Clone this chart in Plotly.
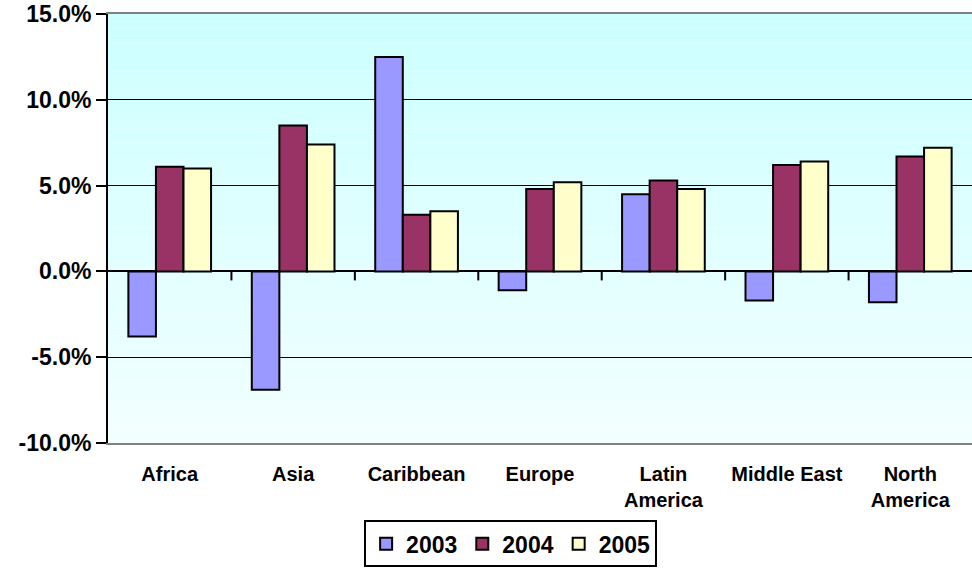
import plotly.graph_objects as go

categories = ["Africa", "Asia", "Caribbean", "Europe", "Latin<br>America", "Middle East", "North<br>America"]
years = ["2003", "2004", "2005"]
v2003 = [-3.8, -6.9, 12.5, -1.1, 4.5, -1.7, -1.8]
v2004 = [6.1, 8.5, 3.3, 4.8, 5.3, 6.2, 6.7]
v2005 = [6.0, 7.4, 3.5, 5.2, 4.8, 6.4, 7.2]
y_tick_vals = [-10, -5, 0, 5, 10, 15]
y_tick_text = ["-10.0%", "-5.0%", "0.0%", "5.0%", "10.0%", "15.0%"]
colors = ["#9999FF", "#993366", "#FFFFCC"]

FONT = "Arial, Liberation Sans, sans-serif"

fig = go.Figure()
for name, vals, col in zip(years, [v2003, v2004, v2005], colors):
    fig.add_trace(go.Bar(
        x=categories, y=vals, name=name,
        marker=dict(color=col, line=dict(color="black", width=2)),
    ))

# gradient background bands (top #CCFFFF -> bottom #F2FFFF)
shapes = []
n = 60
c0 = (204, 255, 255)
c1 = (242, 255, 255)
for i in range(n):
    t = i / (n - 1)
    r = round(c0[0] + (c1[0] - c0[0]) * t)
    g = round(c0[1] + (c1[1] - c0[1]) * t)
    b = round(c0[2] + (c1[2] - c0[2]) * t)
    shapes.append(dict(type="rect", xref="paper", yref="paper",
                       x0=0, x1=1, y0=1 - (i + 1) / n, y1=1 - i / n,
                       fillcolor=f"rgb({r},{g},{b})", line=dict(width=0),
                       layer="below"))
# category separator ticks at zero line
for i in range(len(categories) - 1):
    shapes.append(dict(type="line", xref="x", yref="y", ysizemode="pixel",
                       yanchor=0, x0=i + 0.5, x1=i + 0.5, y0=0, y1=-9,
                       line=dict(color="black", width=2)))

fig.update_layout(
    width=972, height=568,
    margin=dict(l=108, r=0, t=14, b=125, autoexpand=False),
    paper_bgcolor="white",
    plot_bgcolor="rgba(0,0,0,0)",
    barmode="group", bargap=0.33, bargroupgap=0,
    font=dict(family=FONT, color="black", weight="bold"),
    shapes=shapes,
    showlegend=True,
    legend=dict(orientation="h", x=0.466, xanchor="center", y=-0.18, yanchor="top",
                bordercolor="black", borderwidth=2, bgcolor="white",
                font=dict(size=23, family=FONT, weight="bold"),
                traceorder="normal", itemwidth=30, tracegroupgap=0),
)
fig.update_xaxes(
    showline=True, linecolor="#808080", linewidth=2, mirror=True,
    ticks="", tickfont=dict(size=20, family=FONT, weight="bold"),
    ticklabelstandoff=12, showgrid=False,
)
fig.update_yaxes(
    range=[-10, 15], tickmode="array", tickvals=y_tick_vals, ticktext=y_tick_text,
    showline=True, linecolor="black", linewidth=2,
    ticks="outside", ticklen=10, tickwidth=2, tickcolor="black",
    tickfont=dict(size=23, family=FONT, weight="bold"),
    ticklabeloverflow="allow",
    showgrid=True, gridcolor="black", gridwidth=1,
    zeroline=True, zerolinecolor="black", zerolinewidth=2,
)
fig.write_html("out.html")
